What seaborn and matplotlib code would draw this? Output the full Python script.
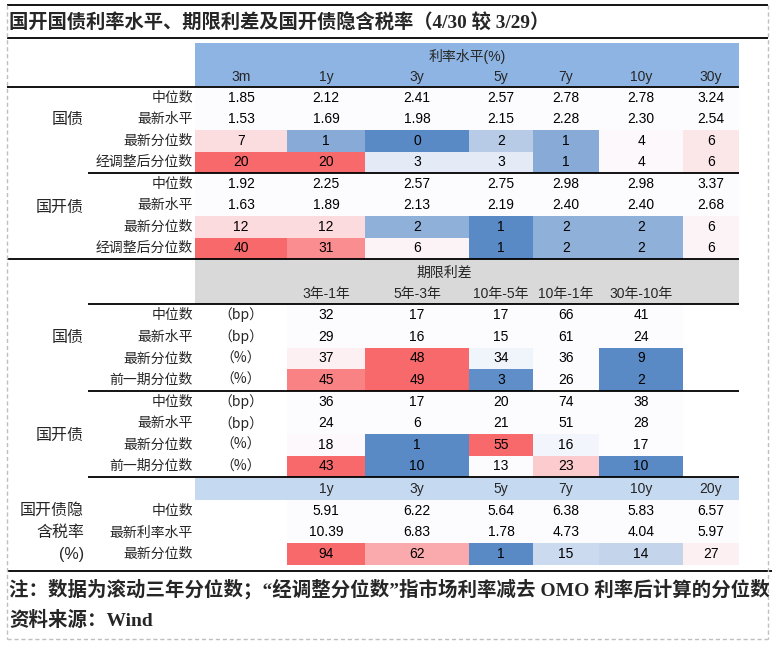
import numpy as np
import matplotlib
matplotlib.use("Agg")
import matplotlib.pyplot as plt
import seaborn as sns
from matplotlib.colors import LinearSegmentedColormap

# ==========================================
# DATA
# ==========================================
rate_tenors = ['3m', '1y', '3y', '5y', '7y', '10y', '30y']
rate_rows = ['中位数', '最新水平', '最新分位数', '经调整后分位数']
gz_median = [1.85, 2.12, 2.41, 2.57, 2.78, 2.78, 3.24]
gz_latest = [1.53, 1.69, 1.98, 2.15, 2.28, 2.30, 2.54]
gz_pct = [7, 1, 0, 2, 1, 4, 6]
gz_adj_pct = [20, 20, 3, 3, 1, 4, 6]
gk_median = [1.92, 2.25, 2.57, 2.75, 2.98, 2.98, 3.37]
gk_latest = [1.63, 1.89, 2.13, 2.19, 2.40, 2.40, 2.68]
gk_pct = [12, 12, 2, 1, 2, 2, 6]
gk_adj_pct = [40, 31, 6, 1, 2, 2, 6]

spread_names = ['3年-1年', '5年-3年', '10年-5年', '10年-1年', '30年-10年']
spread_rows = ['中位数', '最新水平', '最新分位数', '前一期分位数']
spread_units = ['（bp）', '（bp）', '（%）', '（%）']
gz_sp_median = [32, 17, 17, 66, 41]
gz_sp_latest = [29, 16, 15, 61, 24]
gz_sp_pct = [37, 48, 34, 36, 9]
gz_sp_prev = [45, 49, 3, 26, 2]
gk_sp_median = [36, 17, 20, 74, 38]
gk_sp_latest = [24, 6, 21, 51, 28]
gk_sp_pct = [18, 1, 55, 16, 17]
gk_sp_prev = [43, 10, 13, 23, 10]

tax_tenors = ['1y', '3y', '5y', '7y', '10y', '20y']
tax_rows = ['中位数', '最新利率水平', '最新分位数']
tax_median = [5.91, 6.22, 5.64, 6.38, 5.83, 6.57]
tax_latest = [10.39, 6.83, 1.78, 4.73, 4.04, 5.97]
tax_pct = [94, 62, 1, 15, 14, 27]

# ==========================================
# LAYOUT / STYLE
# ==========================================
W, H = 772, 646
COL_EDGES = [195, 287, 365, 469, 533, 599, 683, 739]
CMAP = LinearSegmentedColormap.from_list('excel3', ['#5A8AC6', '#FCFCFF', '#F8696B'])
SANS = ['Liberation Sans', 'Noto Sans CJK SC']
SERIF = ['Liberation Serif', 'Noto Sans CJK SC']

sns.set_style('white')
plt.rcParams['font.family'] = SANS
plt.rcParams['axes.unicode_minus'] = False


def excel_scale(vals):
    """Excel 3-colour scale: min -> 0, median -> 0.5, max -> 1."""
    v = np.asarray(vals, float)
    lo, mid, hi = v.min(), np.median(v), v.max()
    return np.where(v <= mid, 0.5 * (v - lo) / (mid - lo), 0.5 + 0.5 * (v - mid) / (hi - mid))


def px_axes(fig, x0, x1, y0, y1):
    return fig.add_axes([x0 / W, 1 - y1 / H, (x1 - x0) / W, (y1 - y0) / H])


def draw_block(fig, c0, c1, y0, y1, colors, labels):
    # column widths are uneven, so map cell index -> pixel edge with a function scale
    edges = np.asarray(COL_EDGES[c0:c1 + 1], float)
    idx = np.arange(len(edges))
    ax = px_axes(fig, edges[0], edges[-1], y0, y1)
    ax.set_xscale('function', functions=(lambda x: np.interp(x, idx, edges),
                                         lambda y: np.interp(y, edges, idx)))
    sns.heatmap(colors, ax=ax, cmap=CMAP, vmin=0, vmax=1, cbar=False,
                annot=np.asarray(labels), fmt='', linewidths=0,
                xticklabels=False, yticklabels=False,
                annot_kws={'color': 'black', 'fontsize': 10})
    ax.set_axis_off()
    return ax


def fmt(vals, f):
    return [f.format(v) for v in vals]


col_mid = [(a + b) / 2 for a, b in zip(COL_EDGES[:-1], COL_EDGES[1:])]

fig = plt.figure(figsize=(W / 100, H / 100), dpi=100)

# background: header fills
bg = fig.add_axes([0, 0, 1, 1])
bg.set_xlim(0, W)
bg.set_ylim(H, 0)
bg.axis('off')
bg.add_patch(plt.Rectangle((195, 43), 739 - 195, 43, color='#8DB4E2', lw=0))
bg.add_patch(plt.Rectangle((195, 259), 739 - 195, 45, color='#D9D9D9', lw=0))
bg.add_patch(plt.Rectangle((195, 478), 739 - 195, 22, color='#C5D9F1', lw=0))

# ---------- rate blocks ----------
for y0, med, lat, pct, adj in [(87, gz_median, gz_latest, gz_pct, gz_adj_pct),
                               (173, gk_median, gk_latest, gk_pct, gk_adj_pct)]:
    colors = np.full((4, 7), 0.5)
    colors[2:] = excel_scale(np.concatenate([pct, adj])).reshape(2, 7)
    labels = [fmt(med, '{:.2f}'), fmt(lat, '{:.2f}'), fmt(pct, '{:d}'), fmt(adj, '{:d}')]
    draw_block(fig, 0, 7, y0, y0 + 86, colors, labels)

# ---------- spread blocks ----------
for y0, y1, med, lat, pct, prev in [(304, 391, gz_sp_median, gz_sp_latest, gz_sp_pct, gz_sp_prev),
                                    (391, 477, gk_sp_median, gk_sp_latest, gk_sp_pct, gk_sp_prev)]:
    colors = np.full((4, 5), 0.5)
    colors[2] = excel_scale(pct)
    colors[3] = excel_scale(prev)
    labels = [fmt(med, '{:d}'), fmt(lat, '{:d}'), fmt(pct, '{:d}'), fmt(prev, '{:d}')]
    draw_block(fig, 1, 6, y0, y1, colors, labels)

# ---------- implied tax block ----------
colors = np.full((3, 6), 0.5)
colors[2] = excel_scale(tax_pct)
labels = [fmt(tax_median, '{:.2f}'), fmt(tax_latest, '{:.2f}'), fmt(tax_pct, '{:d}')]
draw_block(fig, 1, 7, 500, 565, colors, labels)

# foreground: rules and text
fg = fig.add_axes([0, 0, 1, 1])
fg.set_xlim(0, W)
fg.set_ylim(H, 0)
fg.axis('off')
fg.patch.set_alpha(0)

for y, x0, x1 in [(5, 7, 768), (38, 7, 768), (87, 7, 739), (173, 88, 739), (259, 7, 739),
                  (304, 88, 739), (391, 88, 739), (477, 88, 739), (571, 7, 772)]:
    fg.plot([x0, x1], [y, y], color='black', lw=1.3, solid_capstyle='butt')
dash = dict(color='#BFBFBF', lw=1, ls=(0, (3, 2)))
fg.plot([7, 7], [5, 639], **dash)
fg.plot([768, 768], [5, 639], **dash)
fg.plot([7, 768], [639, 639], **dash)

fg.text(9, 22, '国开国债利率水平、期限利差及国开债隐含税率（4/30 较 3/29）',
        family=SERIF, fontsize=13.9, fontweight='bold', va='center', ha='left')

# rate header
fg.text(467, 57, '利率水平(%)', fontsize=10, ha='center', va='center')
for x, t in zip(col_mid, rate_tenors):
    fg.text(x, 77, t, fontsize=10, ha='center', va='center')
for y0, grp, gy in [(87, '国债', 119), (173, '国开债', 207)]:
    fg.text(84, gy, grp, fontsize=11.5, ha='right', va='center')
    for i, r in enumerate(rate_rows):
        fg.text(193, y0 + 21.5 * (i + 0.5), r, fontsize=10, ha='right', va='center')

# spread header
fg.text(444, 273, '期限利差', fontsize=10, ha='center', va='center')
for x, t in zip(col_mid[1:], spread_names):
    fg.text(x, 294, t, fontsize=10, ha='center', va='center')
for y0, h, grp, gy in [(304, 21.75, '国债', 337), (391, 21.5, '国开债', 435)]:
    fg.text(84, gy, grp, fontsize=11.5, ha='right', va='center')
    for i, (r, u) in enumerate(zip(spread_rows, spread_units)):
        fg.text(193, y0 + h * (i + 0.5), r, fontsize=10, ha='right', va='center')
        fg.text(col_mid[0], y0 + h * (i + 0.5), u, fontsize=10, ha='center', va='center',
                family=['Noto Sans CJK SC', 'DejaVu Sans'])

# tax header
for x, t in zip(col_mid[1:], tax_tenors):
    fg.text(x, 489, t, fontsize=10, ha='center', va='center')
for i, (g, r) in enumerate(zip(['国开债隐', '含税率', '(%)'], tax_rows)):
    y = 500 + 65 / 3 * (i + 0.5)
    fg.text(84, y, g, fontsize=11.5, ha='right', va='center')
    fg.text(193, y, r, fontsize=10, ha='right', va='center')

fg.text(9, 589, '注：数据为滚动三年分位数；“经调整分位数”指市场利率减去 OMO 利率后计算的分位数',
        family=SERIF, fontsize=14, fontweight='bold', va='center', ha='left')
fg.text(9, 620, '资料来源：Wind', family=SERIF, fontsize=14, fontweight='bold',
        va='center', ha='left')

fig.savefig('out.png', dpi=100)
